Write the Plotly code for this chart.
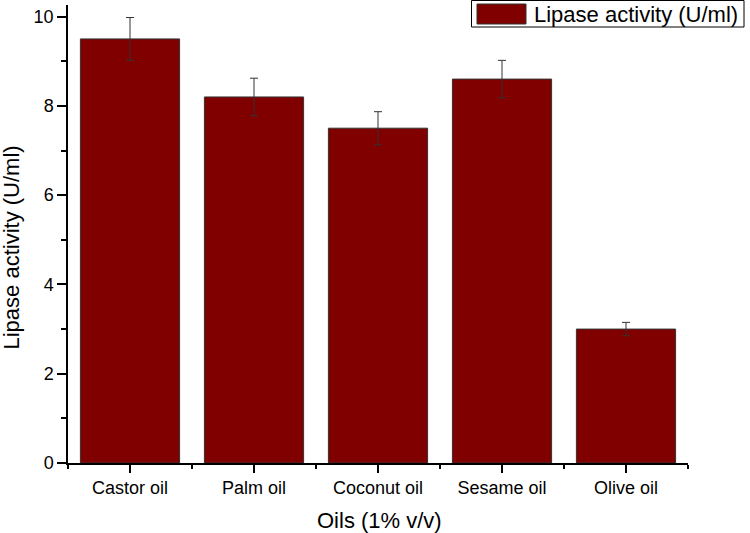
import plotly.graph_objects as go

categories = ["Castor oil", "Palm oil", "Coconut oil", "Sesame oil", "Olive oil"]
activity = [9.5, 8.2, 7.5, 8.6, 3.0]
errors = [0.48, 0.42, 0.37, 0.42, 0.15]
series_name = "Lipase activity (U/ml)"
x_title = "Oils (1% v/v)"
y_ticks = [0, 2, 4, 6, 8, 10]

BAR = "#800000"
EDGE = "#333333"
FONT = "Liberation Sans, Arial, sans-serif"

x_pos = list(range(len(categories)))

fig = go.Figure()
fig.add_trace(go.Bar(
    x=x_pos, y=activity, name=series_name,
    marker=dict(color=BAR, line=dict(color=EDGE, width=1)),
    error_y=dict(type="data", array=errors, visible=True, color="#333333", thickness=1, width=4),
    width=0.8, showlegend=False,
))

L = 68; R = 688; T = 5; B = 463
def px(x):
    return (x - L) / (R - L)
def py(y):
    return (B - y) / (B - T)

# legend drawn manually to match the large swatch of the original
fig.add_shape(type="rect", xref="paper", yref="paper",
              x0=px(471.5), x1=px(744), y0=py(27), y1=py(0.5),
              line=dict(color="#000000", width=1), fillcolor="white")
fig.add_shape(type="rect", xref="paper", yref="paper",
              x0=px(477), x1=px(526), y0=py(24), y1=py(4),
              line=dict(color=EDGE, width=1), fillcolor=BAR)
fig.add_annotation(xref="paper", yref="paper", x=px(532), y=py(14.5),
                   text=series_name, showarrow=False, xanchor="left", yanchor="middle",
                   font=dict(family=FONT, size=22, color="#000000"))

# axis titles
fig.add_annotation(xref="paper", yref="paper", x=px(379), y=py(520.5),
                   text=x_title, showarrow=False, xanchor="center", yanchor="middle",
                   font=dict(family=FONT, size=22, color="#000000"))
fig.add_annotation(xref="paper", yref="paper", x=px(11), y=py(247.5),
                   text=series_name, showarrow=False, xanchor="center", yanchor="middle",
                   textangle=-90,
                   font=dict(family=FONT, size=22, color="#000000"))

fig.update_layout(
    width=750, height=533,
    margin=dict(l=L, r=750 - R, t=T, b=533 - B, autoexpand=False),
    paper_bgcolor="white", plot_bgcolor="white",
    font=dict(family=FONT, size=18, color="#000000"),
    xaxis=dict(
        range=[-0.5, len(categories) - 0.5],
        tickvals=x_pos, ticktext=categories,
        showline=True, linecolor="#000000", linewidth=1.5,
        ticks="outside", ticklen=8, tickwidth=1.5, tickcolor="#000000",
        minor=dict(ticks="outside", ticklen=4, tickwidth=1.5, tickcolor="#000000", tick0=0.5, dtick=1),
        showgrid=False, zeroline=False, automargin=False,
        tickfont=dict(size=18),
    ),
    yaxis=dict(
        range=[0, 10.26],
        tickvals=y_ticks,
        showline=True, linecolor="#000000", linewidth=1.5,
        ticks="outside", ticklen=9, tickwidth=1.5, tickcolor="#000000",
        minor=dict(ticks="outside", ticklen=5, tickwidth=1.5, tickcolor="#000000", tick0=1, dtick=2),
        showgrid=False, zeroline=False, automargin=False,
        tickfont=dict(size=18),
    ),
)

fig.write_html("out.html", config={"displayModeBar": False},
               post_script="document.body.style.margin='0';")
